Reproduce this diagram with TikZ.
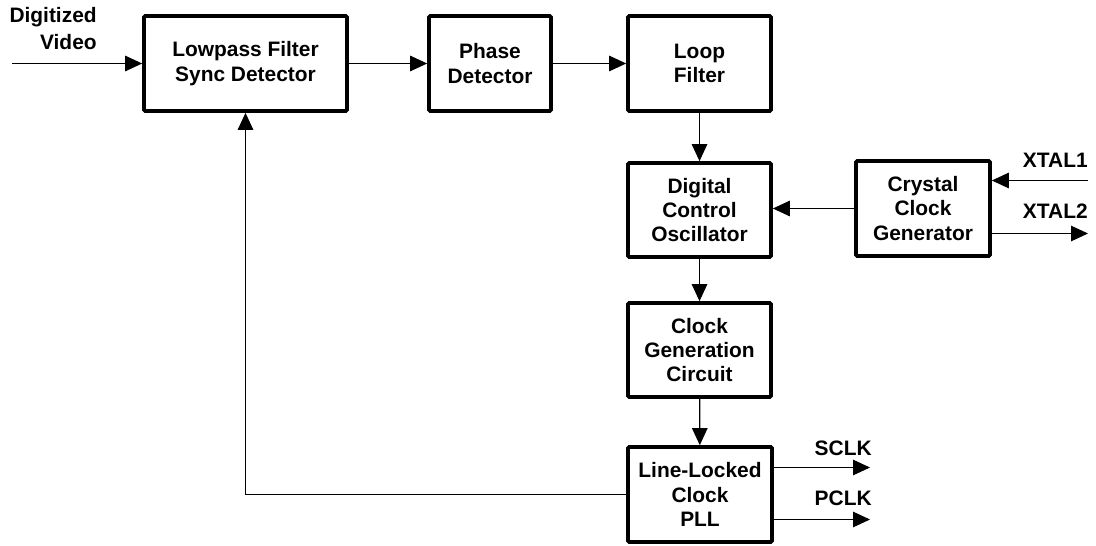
\documentclass[tikz,border=0pt]{standalone}
\usepackage{fontspec}
\setmainfont{Liberation Sans}
\usetikzlibrary{arrows.meta}
\tikzset{>={Triangle[length=0.34cm,width=0.31cm]}}
\tikzset{
  block/.style={draw, line width=2.1pt, rounded corners=0.7pt, align=center,
    inner sep=0pt, font=\bfseries\fontsize{11.9}{13.9}\selectfont},
  wire/.style={line width=0.65pt},
  pinlabel/.style={anchor=base east, inner sep=0pt,
    font=\bfseries\fontsize{11.9}{13.9}\selectfont}
}

\begin{document}
\begin{tikzpicture}

\useasboundingbox (0,0) rectangle (21.92,-10.92);

% blocks
\node[block, minimum width=4.06cm, minimum height=1.90cm] (lp) at (4.91,-1.27) {Lowpass Filter\\Sync Detector};
\node[block, minimum width=2.44cm, minimum height=1.90cm] (pd) at (9.80,-1.27) {Phase\\Detector};
\node[block, minimum width=2.86cm, minimum height=1.90cm] (lf) at (13.99,-1.27) {Loop\\Filter};
\node[block, minimum width=2.86cm, minimum height=1.88cm] (dco) at (13.99,-4.20) {Digital\\Control\\Oscillator};
\node[block, minimum width=2.68cm, minimum height=1.90cm] (ccg) at (18.46,-4.17) {Crystal\\Clock\\Generator};
\node[block, minimum width=2.86cm, minimum height=1.88cm] (cgc) at (13.99,-7.00) {Clock\\Generation\\Circuit};
\node[block, minimum width=2.88cm, minimum height=1.90cm] (llc) at (14.00,-9.89) {Line-Locked\\Clock\\PLL};

% free ends
\coordinate (vin) at (0.24,-1.27);
\coordinate (x1) at (21.76,-3.61);
\coordinate (x2) at (21.76,-4.67);
\coordinate (sclk) at (17.40,-9.35);
\coordinate (pclk) at (17.40,-10.39);

\node[pinlabel, align=right, anchor=east, inner sep=0pt] (vinlbl) at (1.94,-0.57) {Digitized\\[0.06cm]Video};

% signal path
\draw[wire,->] (vin) -- (lp.west);
\draw[wire,->] (lp) -- (pd);
\draw[wire,->] (pd) -- (lf);
\draw[wire,->] (lf) -- (dco);
\draw[wire,->] (dco) -- (cgc);
\draw[wire,->] (cgc) -- (llc);
\draw[wire,->] (ccg.west) -- (ccg.west -| dco.east);
\draw[wire,->] (llc.west) -| (lp.south);

% crystal pins
\draw[wire,->] (x1) -- (x1 -| ccg.east);
\draw[wire,->] (x2 -| ccg.east) -- (x2);
\node[pinlabel, yshift=0.26cm] at (x1) {XTAL1};
\node[pinlabel, yshift=0.30cm] at (x2) {XTAL2};

% clock outputs
\draw[wire,->] (sclk -| llc.east) -- (sclk);
\draw[wire,->] (pclk -| llc.east) -- (pclk);
\node[pinlabel, yshift=0.24cm, xshift=0.04cm] at (sclk) {SCLK};
\node[pinlabel, yshift=0.28cm, xshift=0.04cm] at (pclk) {PCLK};

\end{tikzpicture}
\end{document}
